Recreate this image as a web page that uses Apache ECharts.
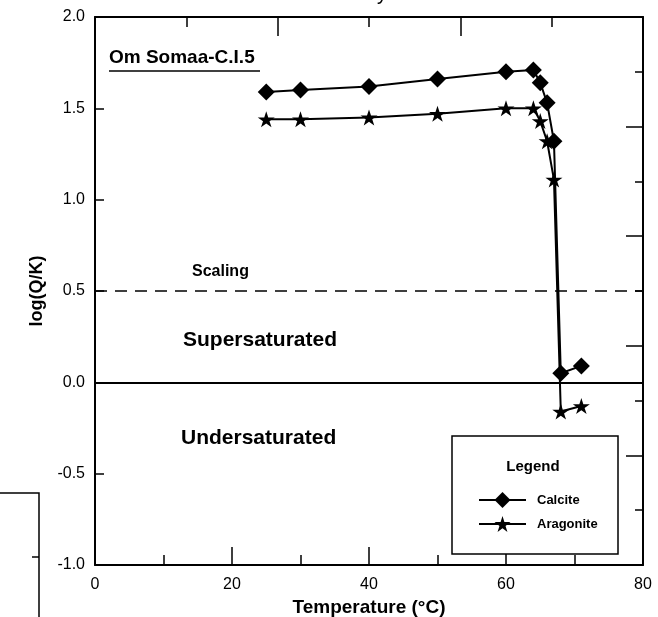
<!DOCTYPE html>
<html>
<head>
<meta charset="utf-8">
<script src="https://cdn.jsdelivr.net/npm/echarts@6/dist/echarts.min.js"></script>
<style>
  html, body { margin: 0; padding: 0; background: #fff; }
  #chart { width: 658px; height: 617px; }
</style>
</head>
<body>
<div id="chart"></div>
<script>
// Saturation index of calcite and aragonite versus temperature
const temperature = [25, 30, 40, 50, 60, 64, 65, 66, 67, 68, 71];
const calcite     = [1.59, 1.60, 1.62, 1.66, 1.70, 1.71, 1.64, 1.53, 1.32, 0.05, 0.09];
const aragonite   = [1.44, 1.44, 1.45, 1.47, 1.50, 1.50, 1.43, 1.32, 1.11, -0.16, -0.13];

const seriesNames = ['Calcite', 'Aragonite'];
const scalingLevel = 0.5;
const saturationLevel = 0.0;

const FONT = '"Liberation Sans", Arial, Helvetica, sans-serif';
const STAR = 'path://M50 0 L61.23 34.55 L97.55 34.55 L68.17 55.9 L79.39 90.45 L50 69.1 L20.61 90.45 L31.83 55.9 L2.45 34.55 L38.77 34.55 Z';

const pairs = (xs, ys) => xs.map((x, i) => [x, ys[i]]);

const chart = echarts.init(document.getElementById('chart'), null, { renderer: 'canvas' });

const axisLine = { show: true, onZero: false, lineStyle: { color: '#000', width: 2 } };

chart.setOption({
  animation: false,
  backgroundColor: '#fff',
  grid: { left: 95, right: 15, top: 17, bottom: 52, containLabel: false, outerBoundsMode: 'none' },
  xAxis: [
    {
      type: 'value', min: 0, max: 80, interval: 20, position: 'bottom',
      axisLine: axisLine,
      axisTick: { show: true, inside: true, length: 18, lineStyle: { color: '#000', width: 1.5 } },
      minorTick: { show: true, splitNumber: 2, length: 10, lineStyle: { color: '#000', width: 1.5 } },
      splitLine: { show: false },
      axisLabel: { color: '#000', fontFamily: FONT, fontSize: 16, margin: 12 },
      name: 'Temperature (°C)', nameLocation: 'middle', nameGap: 32,
      nameTextStyle: { color: '#000', fontFamily: FONT, fontSize: 19, fontWeight: 'bold' }
    },
    {
      type: 'value', min: 0, max: 6, interval: 2, position: 'top',
      axisLine: axisLine,
      axisTick: { show: true, inside: true, length: 19, lineStyle: { color: '#000', width: 1.5 } },
      minorTick: { show: true, splitNumber: 2, length: 10, lineStyle: { color: '#000', width: 1.5 } },
      splitLine: { show: false },
      axisLabel: { show: false }
    }
  ],
  yAxis: [
    {
      type: 'value', min: -1, max: 2, interval: 0.5, position: 'left',
      axisLine: axisLine,
      axisTick: { show: true, inside: true, length: 9, lineStyle: { color: '#000', width: 1.5 } },
      splitLine: { show: false },
      axisLabel: { color: '#000', fontFamily: FONT, fontSize: 16, margin: 10,
        formatter: v => v.toFixed(1) },
      name: 'log(Q/K)', nameLocation: 'middle', nameGap: 42, nameRotate: 90,
      nameTextStyle: { color: '#000', fontFamily: FONT, fontSize: 18, fontWeight: 'bold' }
    },
    {
      type: 'value', min: 0, max: 10, interval: 2, position: 'right',
      axisLine: axisLine,
      axisTick: { show: true, inside: true, length: 17, lineStyle: { color: '#000', width: 1.5 } },
      minorTick: { show: true, splitNumber: 2, length: 8, lineStyle: { color: '#000', width: 1.5 } },
      splitLine: { show: false },
      axisLabel: { show: false }
    }
  ],
  legend: {
    data: seriesNames,
    orient: 'vertical',
    left: 473, top: 487,
    itemWidth: 47, itemHeight: 20, itemGap: 8,
    textStyle: { color: '#000', fontFamily: FONT, fontSize: 13, fontWeight: 'bold', padding: [0, 0, 0, 6] }
  },
  series: [
    {
      name: seriesNames[0], type: 'line', xAxisIndex: 0, yAxisIndex: 0,
      data: pairs(temperature, calcite),
      symbol: 'diamond', symbolSize: 17,
      itemStyle: { color: '#000' },
      lineStyle: { color: '#000', width: 2 },
      z: 5,
      markLine: {
        silent: true, symbol: 'none', label: { show: false },
        data: [
          { yAxis: scalingLevel, lineStyle: { color: '#000', width: 1.5, type: [12, 8] } },
          { yAxis: saturationLevel, lineStyle: { color: '#000', width: 2, type: 'solid' } }
        ]
      }
    },
    {
      name: seriesNames[1], type: 'line', xAxisIndex: 0, yAxisIndex: 0,
      data: pairs(temperature, aragonite),
      symbol: STAR, symbolSize: [17, 16],
      itemStyle: { color: '#000' },
      lineStyle: { color: '#000', width: 2 },
      z: 5
    }
  ],
  graphic: [
    // sample name, underlined
    { type: 'text', left: 109, top: 48, z: 10,
      style: { text: 'Om Somaa-C.I.5', fill: '#000', font: 'bold 19px ' + FONT } },
    { type: 'line', z: 10, shape: { x1: 109, y1: 71, x2: 260, y2: 71 },
      style: { stroke: '#000', lineWidth: 1.5 } },
    // region annotations
    { type: 'text', left: 192, top: 264, z: 10,
      style: { text: 'Scaling', fill: '#000', font: 'bold 16px ' + FONT } },
    { type: 'text', left: 183, top: 330, z: 10,
      style: { text: 'Supersaturated', fill: '#000', font: 'bold 21px ' + FONT } },
    { type: 'text', left: 181, top: 428, z: 10,
      style: { text: 'Undersaturated', fill: '#000', font: 'bold 21px ' + FONT } },
    // legend frame and heading
    { type: 'rect', z: 1, shape: { x: 452, y: 436, width: 166, height: 118 },
      style: { fill: '#fff', stroke: '#000', lineWidth: 1.5 } },
    { type: 'text', x: 533, y: 467, z: 10,
      style: { text: 'Legend', fill: '#000', font: 'bold 15px ' + FONT, align: 'center', verticalAlign: 'middle' } },
    // fragment of a neighbouring panel at the lower left
    { type: 'polyline', z: 10, shape: { points: [[0, 493], [39, 493], [39, 617]] },
      style: { stroke: '#000', lineWidth: 1.5, fill: null } },
    { type: 'line', z: 10, shape: { x1: 32, y1: 557, x2: 39, y2: 557 },
      style: { stroke: '#000', lineWidth: 1.5 } },
    // descender of the page heading above
    { type: 'text', x: 382, y: -6, z: 10,
      style: { text: 'y', fill: '#000', font: '20px ' + FONT, align: 'center', verticalAlign: 'middle' } }
  ]
});
</script>
</body>
</html>
